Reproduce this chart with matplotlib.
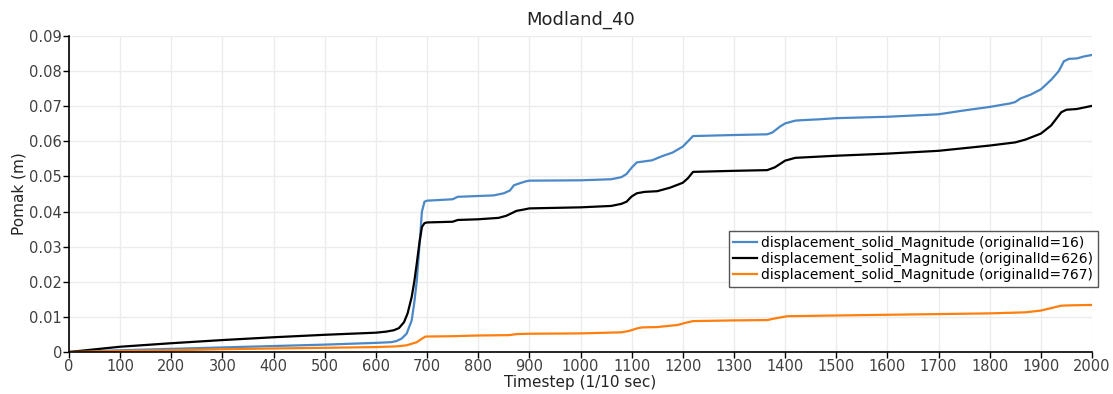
import matplotlib
matplotlib.use("Agg")
import matplotlib.pyplot as plt

plt.rcParams['font.family'] = ['DejaVu Sans']

title = "Modland_40"
xlabel = "Timestep (1/10 sec)"
ylabel = "Pomak (m)"
labels = ["displacement_solid_Magnitude (originalId=16)",
          "displacement_solid_Magnitude (originalId=626)",
          "displacement_solid_Magnitude (originalId=767)"]
colors = ["#4a88c7", "#000000", "#ff7f0e"]

blue_x = [0, 100, 200, 300, 400, 500, 600, 630, 640, 650, 660, 670, 675, 680, 685, 690, 695, 700,
          750, 760, 830, 850, 862, 870, 880, 893, 900, 1000, 1060, 1080, 1090, 1100, 1110, 1140,
          1160, 1180, 1200, 1210, 1220, 1300, 1365, 1375, 1390, 1400, 1420, 1430, 1470, 1500, 1600,
          1700, 1750, 1800, 1840, 1850, 1860, 1880, 1900, 1920, 1935, 1945, 1955, 1970, 1985, 2000]
blue_y = [0, 0.0005, 0.0009, 0.0013, 0.0017, 0.0021, 0.0026, 0.0028, 0.0031, 0.0038, 0.0052, 0.009,
          0.014, 0.0204, 0.030, 0.040, 0.0428, 0.0431, 0.0435, 0.0442, 0.0446, 0.0452, 0.046, 0.0475,
          0.048, 0.0486, 0.0488, 0.0489, 0.0492, 0.0498, 0.0507, 0.0525, 0.054, 0.0546, 0.0558,
          0.0568, 0.0585, 0.060, 0.0615, 0.0618, 0.062, 0.0625, 0.0642, 0.0651, 0.0659, 0.066, 0.0663,
          0.0666, 0.067, 0.0677, 0.0688, 0.0698, 0.0708, 0.0712, 0.0722, 0.0733, 0.0748, 0.0775,
          0.080, 0.0828, 0.0835, 0.0836, 0.0842, 0.0846]

black_x = [0, 100, 200, 300, 400, 500, 600, 620, 635, 645, 655, 662, 670, 675, 680, 685, 690, 695,
           700, 750, 760, 800, 840, 855, 865, 875, 890, 900, 1000, 1060, 1080, 1090, 1100, 1110,
           1125, 1150, 1175, 1200, 1210, 1220, 1300, 1365, 1380, 1400, 1420, 1500, 1600, 1700, 1800,
           1850, 1870, 1900, 1920, 1940, 1950, 1970, 2000]
black_y = [0, 0.0015, 0.0025, 0.0034, 0.0042, 0.0049, 0.0055, 0.0058, 0.0062, 0.0068, 0.0085, 0.011,
           0.0157, 0.020, 0.0253, 0.031, 0.0356, 0.0367, 0.0369, 0.0371, 0.0376, 0.0378, 0.0382,
           0.0388, 0.0395, 0.0402, 0.0406, 0.0409, 0.0412, 0.0416, 0.0422, 0.0428, 0.0443, 0.0452,
           0.0456, 0.0458, 0.0468, 0.0482, 0.0495, 0.0513, 0.0516, 0.0518, 0.0526, 0.0545, 0.0553,
           0.0559, 0.0565, 0.0573, 0.0588, 0.0597, 0.0605, 0.0622, 0.0645, 0.0683, 0.069, 0.0692,
           0.0701]

orange_x = [0, 100, 200, 300, 400, 500, 600, 640, 660, 680, 690, 697, 750, 800, 860, 875, 900, 1000,
            1080, 1095, 1110, 1120, 1150, 1190, 1205, 1220, 1300, 1365, 1385, 1405, 1500, 1600, 1700,
            1800, 1870, 1900, 1920, 1940, 1960, 2000]
orange_y = [0, 0.0003, 0.0005, 0.0008, 0.001, 0.0012, 0.0014, 0.0016, 0.0019, 0.0028, 0.0038, 0.0044,
            0.0045, 0.0047, 0.0048, 0.0051, 0.0052, 0.0053, 0.0056, 0.006, 0.0067, 0.007, 0.0071,
            0.0077, 0.0083, 0.0088, 0.009, 0.0091, 0.0097, 0.0102, 0.0104, 0.0106, 0.0108, 0.011,
            0.0113, 0.0118, 0.0125, 0.0132, 0.0133, 0.0134]

x_ticks = list(range(0, 2001, 100))
y_ticks = [0, 0.01, 0.02, 0.03, 0.04, 0.05, 0.06, 0.07, 0.08, 0.09]
y_tick_labels = ["0", "0.01", "0.02", "0.03", "0.04", "0.05", "0.06", "0.07", "0.08", "0.09"]

fig = plt.figure(figsize=(11.13, 3.94), dpi=100)
ax = fig.add_axes([69/1113, 42/394, 1023/1113, 316/394])

series = [(blue_x, blue_y), (black_x, black_y), (orange_x, orange_y)]
for (xs, ys), lab, col in zip(series, labels, colors):
    ax.plot(xs, ys, color=col, lw=1.6, label=lab, solid_joinstyle='round')

ax.set_xlim(0, 2000)
ax.set_ylim(0, 0.09)
ax.set_xticks(x_ticks)
ax.set_xticklabels([str(t) for t in x_ticks])
ax.set_yticks(y_ticks)
ax.set_yticklabels(y_tick_labels)
ax.grid(True, color="#ececec", lw=1)
ax.set_axisbelow(True)
for s in ["top", "right"]:
    ax.spines[s].set_visible(False)
for s in ["left", "bottom"]:
    ax.spines[s].set_linewidth(1.2)
ax.tick_params(axis='both', direction='out', length=4, width=1, labelsize=10.5,
               labelcolor="#404040", pad=1)

ax.set_title(title, fontsize=13, color="#222222", pad=8)
ax.set_xlabel(xlabel, fontsize=11, color="#222222", labelpad=1)
ax.set_ylabel(ylabel, fontsize=11, color="#222222", labelpad=2)

leg = ax.legend(loc='upper right', bbox_to_anchor=(1098/1113, (394-231)/394),
                bbox_transform=fig.transFigure, borderaxespad=0, fontsize=10,
                fancybox=False, edgecolor="#555555", framealpha=1, handlelength=1.7,
                handletextpad=0.3, labelspacing=0.15, borderpad=0.35)
leg.get_frame().set_linewidth(1.0)

fig.savefig("out.png", dpi=100)
